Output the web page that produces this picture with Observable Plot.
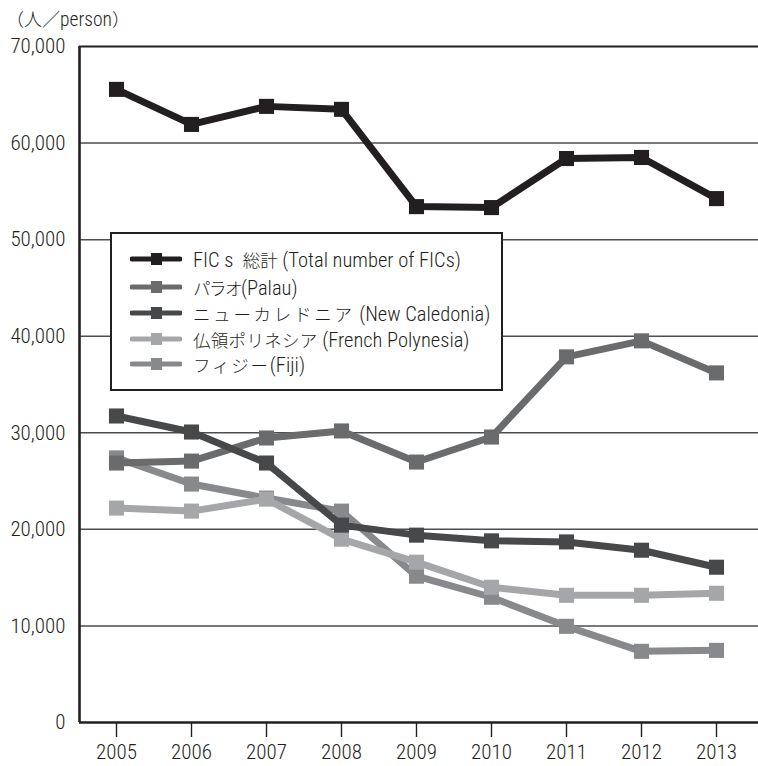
<!DOCTYPE html>
<html><head><meta charset="utf-8">
<script src="https://cdn.jsdelivr.net/npm/d3@7"></script>
<script src="https://cdn.jsdelivr.net/npm/@observablehq/plot@0.6"></script>
<style>
body{margin:0;background:#fff;}
#wrap{position:relative;width:758px;height:766px;font-family:"Roboto Condensed","Noto Sans CJK JP",sans-serif;font-weight:300;color:#231f20;}
#unit{position:absolute;left:6px;top:5px;font-size:19.5px;}
#unit .j{font-family:"Noto Sans CJK JP";font-size:18px;}
#legend{position:absolute;left:110px;top:232px;width:389px;height:155px;border:2px solid #231f20;background:#fff;box-sizing:content-box;}
.row{position:absolute;left:18px;height:26px;display:flex;align-items:center;font-size:20.5px;white-space:nowrap;}
.row svg{margin-right:11px;}
.row .j{font-family:"Noto Sans CJK JP";font-size:17.5px;}
#chart svg, #chart svg g, #chart svg text{font-weight:300 !important;font-variant:normal !important;font-variant-numeric:normal !important;}
</style></head>
<body>
<div id="wrap"><div id="unit"><span class="j">（人／</span>person<span class="j">）</span></div><div id="chart"></div><div id="legend"></div></div>
<script>
const years = [2005, 2006, 2007, 2008, 2009, 2010, 2011, 2012, 2013];
const seriesJa = ["総計", "パラオ", "ニューカレドニア", "仏領ポリネシア", "フィジー"];
const seriesEn = ["Total number of FICs", "Palau", "New Caledonia", "French Polynesia", "Fiji"];
const total = [65560, 61930, 63800, 63490, 53420, 53320, 58400, 58510, 54250];
const palau = [26870, 27070, 29460, 30190, 26970, 29560, 37860, 39520, 36200];
const newCaledonia = [31740, 30080, 26870, 20440, 19400, 18810, 18700, 17840, 16080];
const frenchPolynesia = [22200, 21890, 23130, 18980, 16600, 14000, 13170, 13170, 13380];
const fiji = [27400, 24690, 23240, 21890, 15150, 12970, 9960, 7370, 7470];
const colors = ["#231f20", "#6a6b6d", "#47484a", "#a5a6a9", "#88898c"];
const yTicks = [0, 10000, 20000, 30000, 40000, 50000, 60000, 70000];

const valuesList = [total, palau, newCaledonia, frenchPolynesia, fiji];
const drawOrder = [4, 3, 1, 2, 0];
const data = [];
for (const si of drawOrder) {
  years.forEach((yr, i) => data.push({series: seriesEn[si], idx: si, year: yr, value: valuesList[si][i]}));
}
const xDomain = [2005 - 37/75, 2013 + 42/75];

const marks = [
  Plot.ruleY(yTicks.filter(d => d > 0 && d < 70000), {stroke: "#4d4d4f", strokeWidth: 1.5}),
  Plot.ruleY([70000], {stroke: "#231f20", strokeWidth: 2}),
  Plot.axisY({ticks: yTicks, tickSize: 0, tickPadding: 14, fontSize: 21, tickFormat: d => d3.format(",")(d), label: null}),
  Plot.axisX({ticks: years, tickSize: 15, tickPadding: 7, fontSize: 21, tickFormat: d => String(d), label: null, strokeWidth: 1.4})
];
for (const si of drawOrder) {
  const d = data.filter(r => r.idx === si);
  marks.push(Plot.line(d, {x: "year", y: "value", stroke: colors[si], strokeWidth: 7, strokeLinejoin: "miter"}));
  marks.push(Plot.dot(d, {x: "year", y: "value", symbol: "square", r: 8.5, fill: colors[si], stroke: "none"}));
}
marks.push(Plot.ruleY([0], {stroke: "#231f20", strokeWidth: 2.6}));
marks.push(Plot.ruleX([xDomain[0]], {y1: 0, y2: 70000, stroke: "#231f20", strokeWidth: 2.6}));

const chart = Plot.plot({
  width: 758, height: 766,
  marginLeft: 79, marginRight: 0, marginTop: 46, marginBottom: 44,
  style: {fontFamily: '"Roboto Condensed","Noto Sans CJK JP",sans-serif', color: "#231f20", background: "#fff", fontWeight: 300},
  x: {type: "linear", domain: xDomain},
  y: {domain: [0, 70000]},
  marks
});
document.getElementById("chart").appendChild(chart);

const legend = document.getElementById("legend");
const rowTops = [12, 40, 66, 92, 117];
const prefix = ["FIC s&nbsp;&nbsp;", "", "", "", ""];
const openP = [" (", "(", " (", " (", "("];
const jaSpacing = [0, -1.5, 2.7, 0.3, 1.8];
seriesEn.forEach((en, i) => {
  const row = document.createElement("div");
  row.className = "row";
  row.style.top = rowTops[i] + "px";
  row.innerHTML = `<svg width="52" height="14"><line x1="2" x2="50" y1="7" y2="7" stroke="${colors[i]}" stroke-width="5" stroke-linecap="round"/><rect x="21" y="1" width="11" height="12" fill="${colors[i]}"/></svg><span>${prefix[i]}<span class="j" style="letter-spacing:${jaSpacing[i]}px">${seriesJa[i]}</span>${openP[i]}${en})</span>`;
  legend.appendChild(row);
});
</script>
</body></html>
